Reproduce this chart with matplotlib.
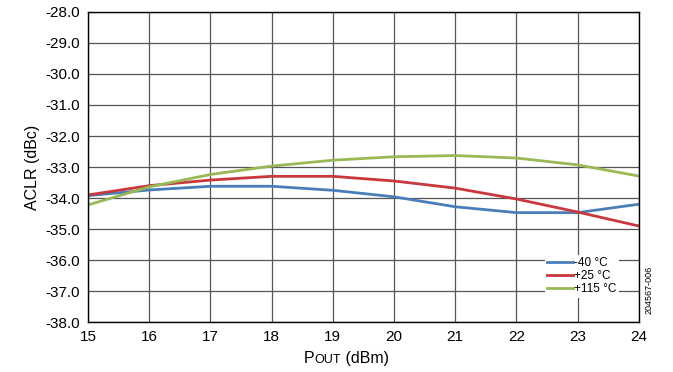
import numpy as np
import matplotlib.pyplot as plt

plt.rcParams['font.family'] = ['Liberation Sans Narrow', 'Liberation Sans', 'DejaVu Sans']

# Output power (dBm)
pout = [15, 16, 17, 18, 19, 20, 21, 22, 23, 24]

# ACLR (dBc) at each temperature
aclr_m40 = [-33.92, -33.74, -33.62, -33.62, -33.75, -33.96, -34.28, -34.47, -34.47, -34.20]
aclr_p25 = [-33.90, -33.60, -33.42, -33.30, -33.30, -33.45, -33.68, -34.03, -34.45, -34.90]
aclr_p115 = [-34.22, -33.64, -33.24, -32.97, -32.78, -32.67, -32.63, -32.71, -32.93, -33.29]

labels = ['-40 °C', '+25 °C', '+115 °C']
colors = ['#4a7ebb', '#c8383c', '#98b954']

fig = plt.figure(figsize=(6.73, 3.72), dpi=100)
ax = fig.add_axes([0.131, 0.134, 0.818, 0.834])

for y, lab, c in zip([aclr_m40, aclr_p25, aclr_p115], labels, colors):
    ax.plot(pout, y, color=c, lw=2, label=lab)

ax.set_xlim(15, 24)
ax.set_ylim(-38, -28)
ax.set_xticks(np.arange(15, 25, 1))
ax.set_yticks(np.arange(-38, -27.5, 1))
ax.yaxis.set_major_formatter(plt.FormatStrFormatter('%.1f'))
ax.grid(True, color='#555555', lw=0.9)
ax.tick_params(length=0, labelsize=11, pad=6)
for s in ax.spines.values():
    s.set_color('black')
    s.set_linewidth(1.0)

ax.set_ylabel('ACLR (dBc)', fontsize=11.5, labelpad=4)

# x label with small caps "OUT"
fig.canvas.draw()
r = fig.canvas.get_renderer()
t1 = fig.text(0.452, 0.025, 'P', fontsize=11.5, ha='left', va='baseline')
w = t1.get_window_extent(r).width / fig.bbox.width
t2 = fig.text(0.452 + w, 0.025, 'OUT', fontsize=9, ha='left', va='baseline')
w2 = t2.get_window_extent(r).width / fig.bbox.width
fig.text(0.452 + w + w2, 0.025, ' (dBm)', fontsize=11.5, ha='left', va='baseline')

leg = ax.legend(loc='lower right', bbox_to_anchor=(0.975, 0.06), fontsize=8.5,
                frameon=True, handlelength=2.2, handletextpad=0.1,
                labelspacing=0.1, borderpad=0.2)
leg.get_frame().set_edgecolor('none')
leg.get_frame().set_facecolor('white')
leg.get_frame().set_alpha(1)

fig.text(0.965, 0.22, '204567-006', rotation=90, fontsize=6.5, ha='center', va='center')

fig.savefig('out.png', dpi=100)
